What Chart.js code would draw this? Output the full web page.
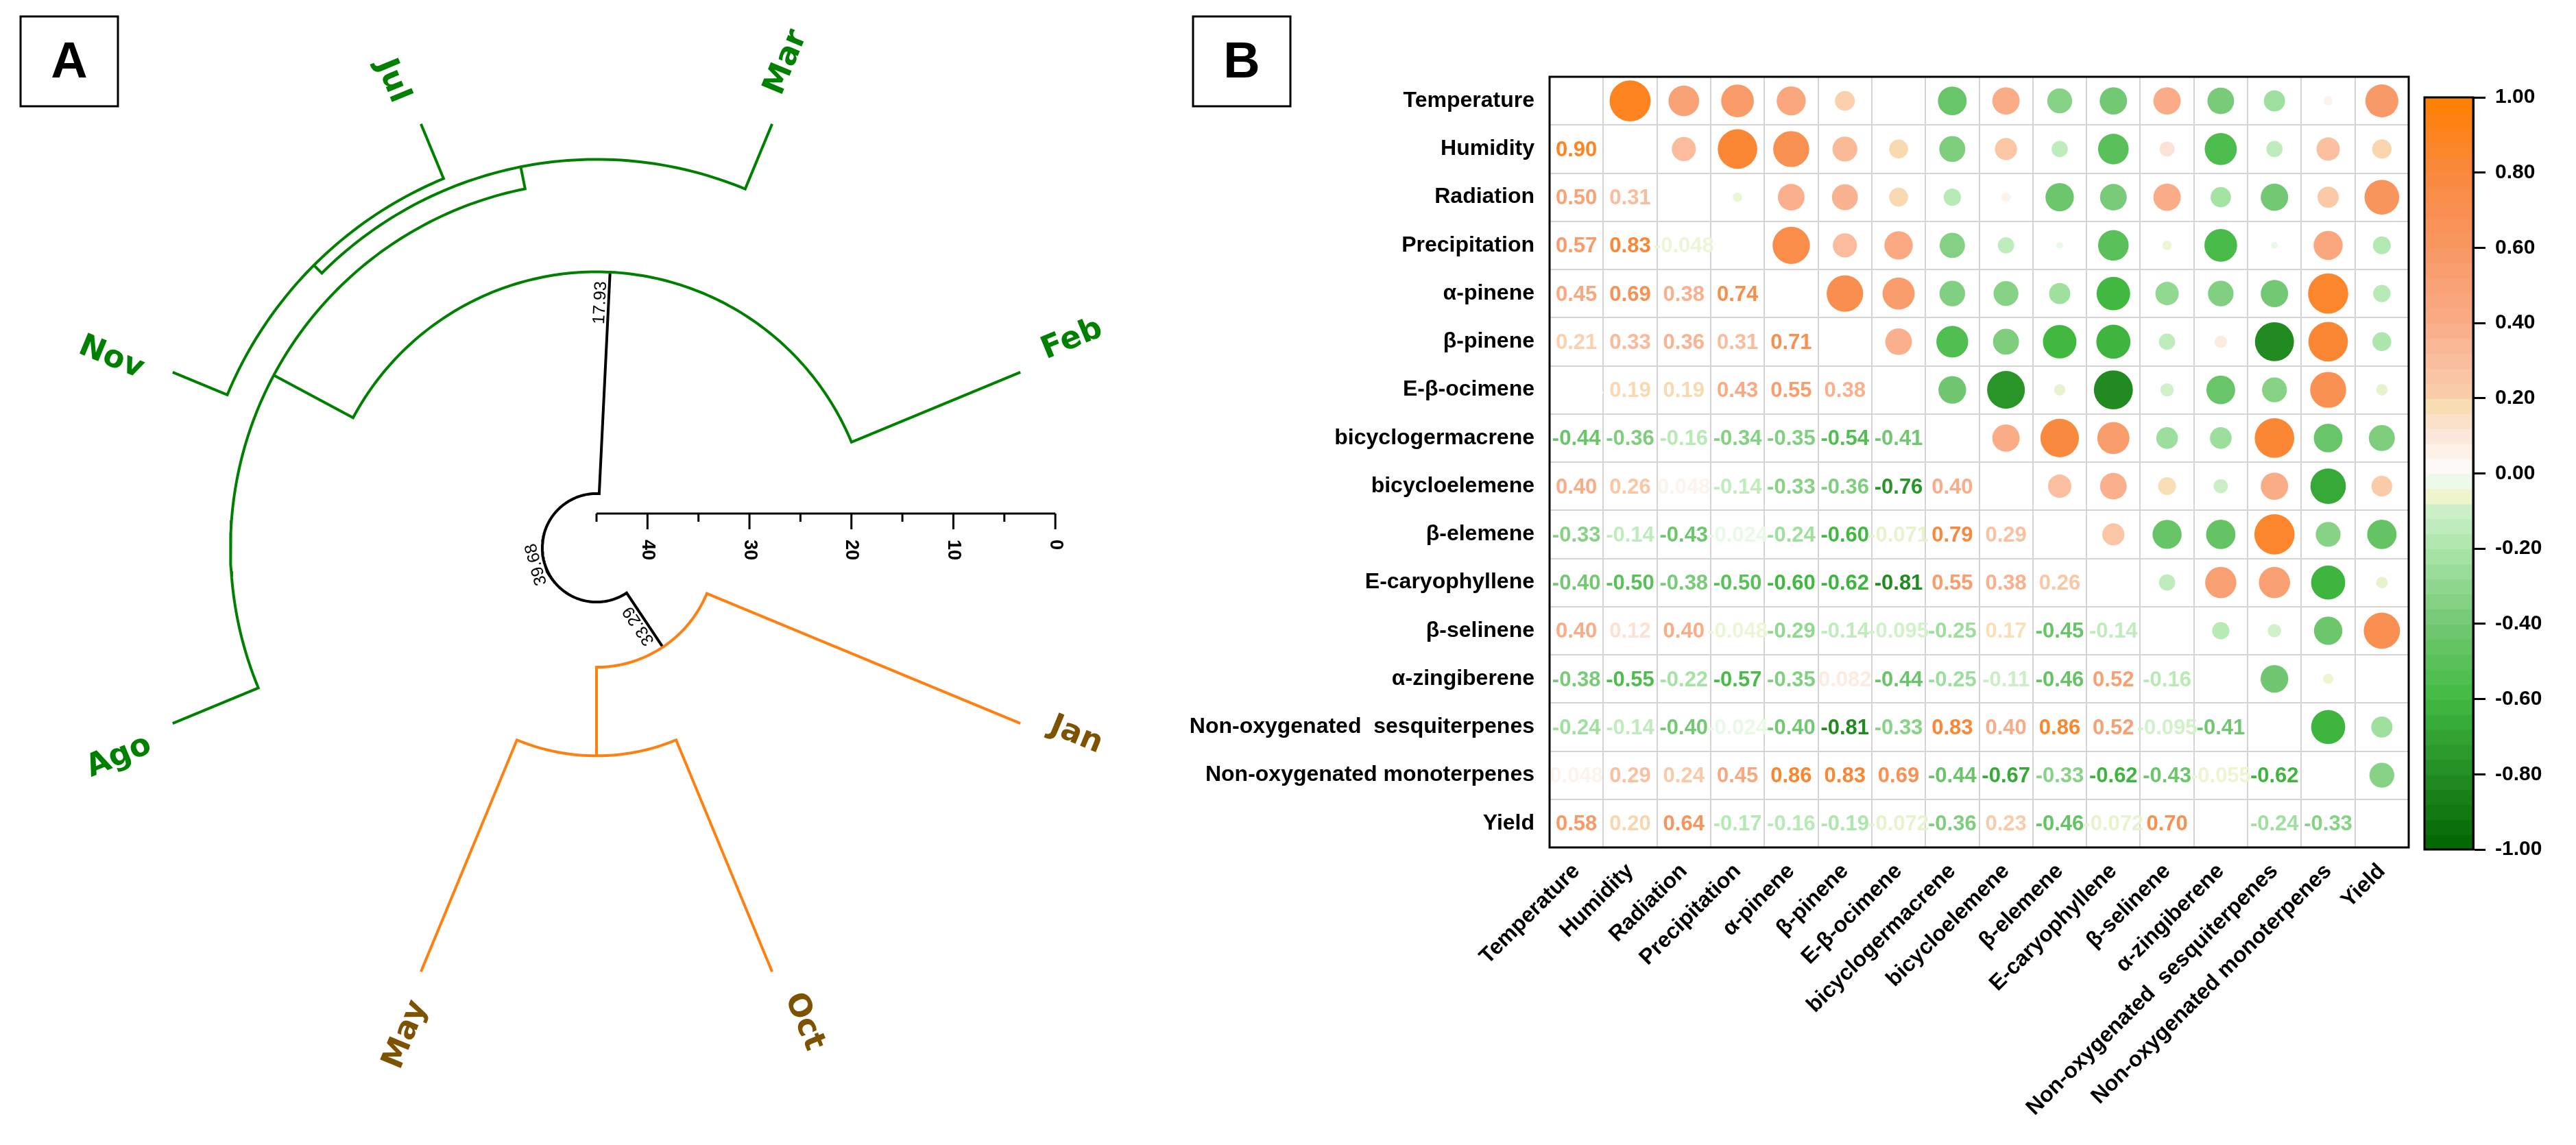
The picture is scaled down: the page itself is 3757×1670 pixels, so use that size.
<!DOCTYPE html>
<html>
<head>
<meta charset="utf-8">
<script src="https://cdn.jsdelivr.net/npm/chart.js@4.4.1/dist/chart.umd.min.js"></script>
<style>
  html, body { margin: 0; padding: 0; background: #fff; }
  #wrap { position: relative; width: 3757px; height: 1670px; }
  canvas { position: absolute; top: 0; }
</style>
</head>
<body>
<div id="wrap">
  <canvas id="dendro" width="1900" height="1670" style="left:0"></canvas>
  <canvas id="corr" width="2057" height="1670" style="left:1700px"></canvas>
  <canvas id="cbar" width="257" height="1670" style="left:3500px"></canvas>
</div>
<script>
// ---------- A: cluster tree of the months ----------
var months = ['Feb', 'Mar', 'Jul', 'Nov', 'Ago', 'May', 'Oct', 'Jan'];   // order round the circle
var monthGroup = [0, 0, 0, 0, 0, 1, 1, 1];
// hclust style merges: negative = leaf (1-based), positive = earlier merge
var mergeA = [-3, -2, 2, -1, -6, -8, 4];
var mergeB = [-4, 1, -5, 3, -7, 5, 6];
var mergeHeight = [5.8, 6.9, 9.1, 17.93, 24.6, 33.29, 39.68];
var labelledNodes = [4, 6, 7];
var heightTicks = [45, 40, 35, 30, 25, 20, 15, 10, 5, 0];

// ---------- B: correlation matrix ----------
var vars = ['Temperature', 'Humidity', 'Radiation', 'Precipitation', 'α-pinene', 'β-pinene',
  'E-β-ocimene', 'bicyclogermacrene', 'bicycloelemene', 'β-elemene', 'E-caryophyllene',
  'β-selinene', 'α-zingiberene', 'Non-oxygenated  sesquiterpenes', 'Non-oxygenated monoterpenes', 'Yield'];
var rowHumidity = [0.90];
var rowRadiation = [0.50, 0.31];
var rowPrecipitation = [0.57, 0.83, -0.048];
var rowAlphaPinene = [0.45, 0.69, 0.38, 0.74];
var rowBetaPinene = [0.21, 0.33, 0.36, 0.31, 0.71];
var rowOcimene = [0.004, 0.19, 0.19, 0.43, 0.55, 0.38];
var rowBicyclogermacrene = [-0.44, -0.36, -0.16, -0.34, -0.35, -0.54, -0.41];
var rowBicycloelemene = [0.40, 0.26, 0.048, -0.14, -0.33, -0.36, -0.76, 0.40];
var rowBetaElemene = [-0.33, -0.14, -0.43, -0.024, -0.24, -0.60, -0.071, 0.79, 0.29];
var rowCaryophyllene = [-0.40, -0.50, -0.38, -0.50, -0.60, -0.62, -0.81, 0.55, 0.38, 0.26];
var rowBetaSelinene = [0.40, 0.12, 0.40, -0.048, -0.29, -0.14, -0.095, -0.25, 0.17, -0.45, -0.14];
var rowZingiberene = [-0.38, -0.55, -0.22, -0.57, -0.35, 0.082, -0.44, -0.25, -0.11, -0.46, 0.52, -0.16];
var rowSesquiterpenes = [-0.24, -0.14, -0.40, -0.024, -0.40, -0.81, -0.33, 0.83, 0.40, 0.86, 0.52, -0.095, -0.41];
var rowMonoterpenes = [0.048, 0.29, 0.24, 0.45, 0.86, 0.83, 0.69, -0.44, -0.67, -0.33, -0.62, -0.43, -0.055, -0.62];
var rowYield = [0.58, 0.20, 0.64, -0.17, -0.16, -0.19, -0.072, -0.36, 0.23, -0.46, -0.072, 0.70, 0.003, -0.24, -0.33];
var lower = [[], rowHumidity, rowRadiation, rowPrecipitation, rowAlphaPinene, rowBetaPinene, rowOcimene,
  rowBicyclogermacrene, rowBicycloelemene, rowBetaElemene, rowCaryophyllene, rowBetaSelinene,
  rowZingiberene, rowSesquiterpenes, rowMonoterpenes, rowYield];
var barTicks = [-1, -0.8, -0.6, -0.4, -0.2, 0, 0.2, 0.4, 0.6, 0.8, 1];

// colour scale, green (-1) .. white (0) .. orange (1)
var cStops = [-1, -0.8, -0.6, -0.4, -0.2, -0.1, -0.06, -0.03, 0, 0.05, 0.12, 0.18, 0.22, 0.3, 0.4, 0.6, 0.8, 1];
var cRGB = [[0,100,0],[35,140,35],[65,185,65],[115,200,115],[170,230,170],[205,240,200],[240,244,205],
  [228,248,225],[255,255,255],[253,243,235],[252,226,212],[248,222,178],[250,205,170],[250,190,158],
  [250,172,135],[248,152,100],[250,136,62],[255,128,0]];
function cmap(v) {
  v = Math.max(-1, Math.min(1, v));
  for (var i = 1; i < cStops.length; i++) {
    if (v <= cStops[i]) {
      var f = (v - cStops[i-1]) / (cStops[i] - cStops[i-1]), a = cRGB[i-1], b = cRGB[i];
      return 'rgb(' + [0,1,2].map(function (k) { return Math.round(a[k] + (b[k] - a[k]) * f); }).join(',') + ')';
    }
  }
  return 'rgb(255,128,0)';
}

var SANS = '"Liberation Sans", Arial, sans-serif';
var K = 14.87, CX = 870, CY = 799;   // px per height unit, centre of the tree

function ang(i) { return 22.5 + 45 * i; }
function nodeOf(id) {
  if (id < 0) { var i = -id - 1; return { a: ang(i), h: 0, g: monthGroup[i] }; }
  var a = nodeOf(mergeA[id-1]), b = nodeOf(mergeB[id-1]);
  return { a: (a.a + b.a) / 2, h: mergeHeight[id-1], g: a.g === b.g ? a.g : -1 };
}
function pol(a, h) {
  var t = a * Math.PI / 180, r = 45 - h;
  return { x: r * Math.cos(t), y: r * Math.sin(t) };
}
var groupColor = { '0': '#008000', '1': '#ff8010', '-1': '#000000' };
var treeSets = [];
for (var k = 1; k <= mergeHeight.length; k++) {
  var n = nodeOf(k), c1 = nodeOf(mergeA[k-1]), c2 = nodeOf(mergeB[k-1]);
  var pts = [pol(c1.a, c1.h)];
  var steps = Math.ceil(Math.abs(c2.a - c1.a));
  for (var s = 0; s <= steps; s++) pts.push(pol(c1.a + (c2.a - c1.a) * s / steps, n.h));
  pts.push(pol(c2.a, c2.h));
  treeSets.push({ data: pts, showLine: true, borderColor: groupColor[n.g], borderWidth: 4,
    pointRadius: 0, borderJoinStyle: 'miter', tension: 0 });
}

var treeDecor = {
  id: 'treeDecor',
  afterDatasetsDraw: function (chart) {
    var c = chart.ctx, sx = chart.scales.x, sy = chart.scales.y;
    var cx = sx.getPixelForValue(0), cy = sy.getPixelForValue(0);
    var unit = sx.getPixelForValue(1) - cx;
    // month labels
    c.font = 'bold 45px "DejaVu Sans"';
    c.textBaseline = 'middle';
    months.forEach(function (m, i) {
      var t = ang(i) * Math.PI / 180, r = 45 * unit + 42, flip = Math.cos(t) < 0;
      c.save();
      c.translate(cx + r * Math.cos(t) - 15 * Math.sin(t), cy - r * Math.sin(t) - 15 * Math.cos(t));
      c.rotate(flip ? Math.PI - t : -t);
      c.textAlign = flip ? 'right' : 'left';
      c.fillStyle = monthGroup[i] ? '#7d5200' : '#008000';
      c.fillText(m, 0, 0);
      c.restore();
    });
    // node heights
    c.font = '25px ' + SANS;
    c.fillStyle = '#000';
    c.textBaseline = 'alphabetic';
    labelledNodes.forEach(function (id) {
      var nd = nodeOf(id), t = nd.a * Math.PI / 180, rn = (45 - nd.h) * unit;
      var txt = nd.h.toFixed(2);
      c.save();
      if (id === mergeHeight.length) {
        c.translate(cx + rn * Math.cos(t), cy - rn * Math.sin(t));
        c.rotate(Math.PI / 2 - t);
        c.textAlign = 'center';
        c.fillText(txt, 0, -5);
      } else {
        var r = rn - 14, flip = Math.sin(t) < 0;
        c.translate(cx + r * Math.cos(t), cy - r * Math.sin(t));
        c.rotate(flip ? Math.PI - t : -t);
        c.textAlign = flip ? 'left' : 'right';
        c.fillText(txt, 0, -5);
      }
      c.restore();
    });
    // height axis
    var ay = cy - 50;
    c.strokeStyle = '#000';
    c.lineWidth = 3;
    c.beginPath();
    c.moveTo(sx.getPixelForValue(0), ay);
    c.lineTo(sx.getPixelForValue(45), ay);
    c.stroke();
    c.font = 'bold 27px ' + SANS;
    heightTicks.forEach(function (h) {
      var px = sx.getPixelForValue(45 - h), major = h % 10 === 0;
      c.beginPath();
      c.moveTo(px, ay);
      c.lineTo(px, ay + (major ? 23 : 12));
      c.stroke();
      if (major) {
        c.save();
        c.translate(px, ay + 38);
        c.rotate(Math.PI / 2);
        c.textAlign = 'left';
        c.textBaseline = 'middle';
        c.fillText(String(h), 0, 0);
        c.restore();
      }
    });
    // panel tags
    c.lineWidth = 3;
    c.font = 'bold 74px ' + SANS;
    c.textAlign = 'center';
    c.textBaseline = 'middle';
    [['A', 30], ['B', 1740]].forEach(function (p) {
      c.strokeRect(p[1], 24, 142, 131);
      c.fillText(p[0], p[1] + 71, 93);
    });
  }
};

new Chart(document.getElementById('dendro'), {
  type: 'scatter',
  data: { datasets: treeSets },
  options: {
    responsive: false, animation: false, devicePixelRatio: 1,
    layout: { padding: 0 },
    plugins: { legend: { display: false }, tooltip: { enabled: false } },
    scales: {
      x: { type: 'linear', display: false, min: -CX / K, max: (1900 - CX) / K },
      y: { type: 'linear', display: false, min: -(1670 - CY) / K, max: CY / K }
    }
  },
  plugins: [treeDecor]
});

// ---------- B ----------
var bubbles = [];
for (var i = 0; i < vars.length; i++) {
  for (var j = i + 1; j < vars.length; j++) {
    var v = lower[j][i];
    bubbles.push({ x: vars[j], y: vars[i], r: 31.6 * Math.sqrt(Math.abs(v)), v: v });
  }
}

var cellText = {
  id: 'cellText',
  afterDatasetsDraw: function (chart) {
    var c = chart.ctx, sx = chart.scales.x, sy = chart.scales.y;
    c.save();
    c.font = 'bold 31px ' + SANS;
    c.textAlign = 'center';
    c.textBaseline = 'middle';
    lower.forEach(function (row, ri) {
      row.forEach(function (v, ci) {
        c.fillStyle = cmap(v);
        c.fillText(v.toFixed(Math.abs(v) < 0.1 ? 3 : 2), sx.getPixelForValue(ci), sy.getPixelForValue(ri) + 2);
      });
    });
    var a = chart.chartArea;
    c.strokeStyle = '#000';
    c.lineWidth = 3;
    c.strokeRect(a.left, a.top, a.right - a.left, a.bottom - a.top);
    c.restore();
  }
};

var labelFont = { family: SANS, weight: 'bold', size: 32 };
new Chart(document.getElementById('corr'), {
  type: 'bubble',
  data: {
    datasets: [{
      data: bubbles,
      backgroundColor: function (ctx) { return ctx.raw ? cmap(ctx.raw.v) : '#fff'; },
      borderWidth: 0, hoverRadius: 0
    }]
  },
  options: {
    responsive: false, animation: false, devicePixelRatio: 1,
    layout: { padding: { top: 112, right: 244, bottom: 0, left: 0 } },
    plugins: { legend: { display: false }, tooltip: { enabled: false } },
    scales: {
      x: {
        type: 'category', labels: vars, offset: true,
        grid: { offset: true, color: '#d4d4d4', lineWidth: 2, drawTicks: false },
        border: { display: false },
        ticks: { autoSkip: false, minRotation: 45, maxRotation: 45, padding: 16, color: '#000', font: labelFont },
        afterFit: function (s) { s.height = 434; }
      },
      y: {
        type: 'category', labels: vars, offset: true,
        grid: { offset: true, color: '#d4d4d4', lineWidth: 2, drawTicks: false },
        border: { display: false },
        ticks: { autoSkip: false, padding: 22, color: '#000', font: labelFont },
        afterFit: function (s) { s.width = 560; }
      }
    }
  },
  plugins: [cellText]
});

// ---------- colour bar ----------
var barPaint = {
  id: 'barPaint',
  beforeDatasetsDraw: function (chart) {
    var c = chart.ctx, sy = chart.scales.y, a = chart.chartArea;
    c.save();
    for (var lo = -1; lo < 0.999; lo += 0.04) {
      var y0 = sy.getPixelForValue(lo), y1 = sy.getPixelForValue(lo + 0.04);
      c.fillStyle = cmap(lo + 0.02);
      c.fillRect(a.left, y1, a.right - a.left, y0 - y1 + 1);
    }
    c.strokeStyle = '#000';
    c.lineWidth = 3;
    c.strokeRect(a.left, a.top, a.right - a.left, a.bottom - a.top);
    c.restore();
  }
};

new Chart(document.getElementById('cbar'), {
  type: 'scatter',
  data: { datasets: [] },
  options: {
    responsive: false, animation: false, devicePixelRatio: 1,
    layout: { padding: { top: 142, right: 0, bottom: 431, left: 36 } },
    plugins: { legend: { display: false }, tooltip: { enabled: false } },
    scales: {
      x: { type: 'linear', display: false, min: 0, max: 1 },
      y: {
        type: 'linear', position: 'right', min: -1, max: 1,
        afterBuildTicks: function (s) { s.ticks = barTicks.map(function (t) { return { value: t }; }); },
        grid: { drawOnChartArea: false, drawTicks: true, tickLength: 18, tickWidth: 3, tickColor: '#000' },
        border: { display: true, color: '#000', width: 3 },
        ticks: {
          padding: 14, color: '#000', font: { family: SANS, weight: 'bold', size: 30 },
          callback: function (v) { return Math.abs(v) < 1e-9 ? '0.00' : Number(v).toFixed(2); }
        },
        afterFit: function (s) { s.width = 150; }
      }
    }
  },
  plugins: [barPaint]
});
</script>
</body>
</html>
